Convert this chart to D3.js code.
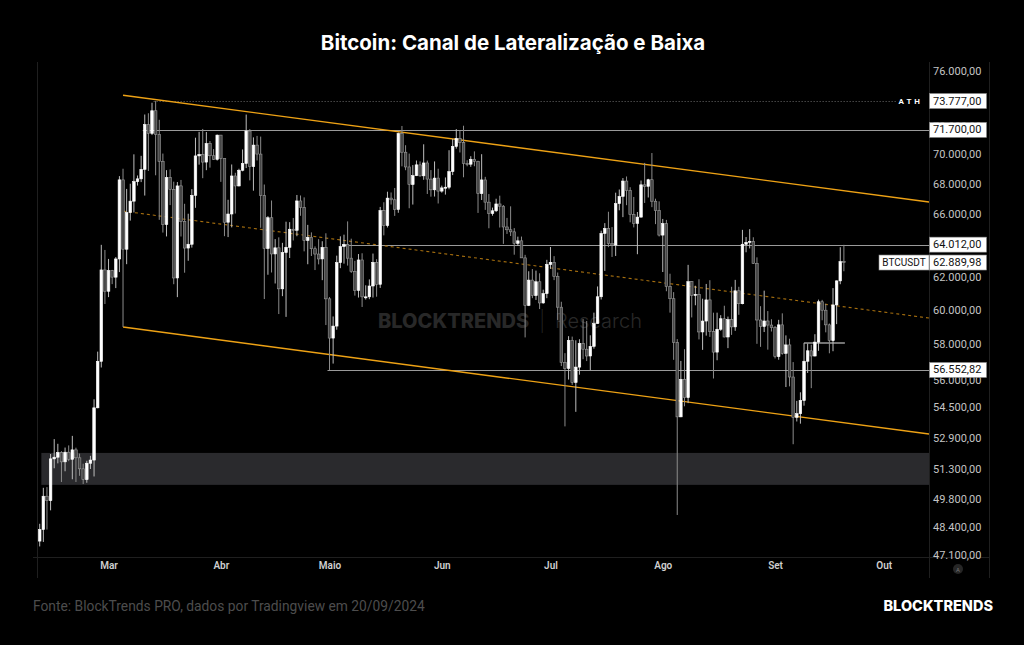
<!DOCTYPE html>
<html>
<head>
<meta charset="utf-8">
<script src="https://cdn.jsdelivr.net/npm/d3@7"></script>
<style>
  html, body { margin: 0; padding: 0; background: #000; }
  svg { display: block; }
</style>
</head>
<body>
<script>
"use strict";

// daily BTCUSDT candles, 11/02/2024 .. 20/09/2024 (one value per day)
const firstDay = "2024-02-11";
const lastDay = "2024-09-20";

const opens = [
  47751,48299,49917,49699,51795,51880,52124,51642,52137,51774,52258,51849,51288,50744,51572,51733,54476,57037,62432,
  61130,62387,61987,63113,68245,63724,66075,66823,68124,68313,68955,72078,71452,73072,71388,69499,65300,68393,67609,61937,67840,65501,63796,64037,67211,69880,69988,69455,70744,69892,69645,
  71333,69702,65446,65980,68508,67837,68896,69360,71620,69146,70631,70007,67195,63765,65738,63426,63811,61276,63512,63843,64994,64927,66837,66408,64276,64481,63755,63419,63113,63841,
  60672,58364,59060,62882,63892,64031,63161,62334,61187,63049,60792,60793,61448,62901,61552,66206,65235,67024,66915,66274,71446,70136,69122,67929,68527,69265,68518,69395,68296,67578,68364,
  67491,67706,67751,68805,70537,71108,70800,69355,69310,69648,69508,67322,68241,66757,66012,66191,66639,66491,65140,64960,64828,64096,64253,63180,60277,61806,60864,61706,60427,60986,
  62772,62900,62029,60173,56977,56639,58231,55857,56714,58051,57725,57339,57889,59204,60797,64724,65043,64087,63987,66660,67139,68165,67532,65936,65372,65777,67912,67813,68255,66819,66201,
  64619,65357,61415,60680,58116,53991,56034,55027,61710,60880,60945,58719,59354,60609,58737,57560,58874,59491,58427,59438,59013,61156,60381,64037,64157,64220,62834,59415,59034,59359,59119,
  58969,57301,59132,57487,57971,56160,53962,54160,54869,57042,57635,57339,58133,60498,59993,59132,58213,60309,61759,62947
];
const highs = [
  48575,50334,50368,52043,52816,52572,52191,52377,52488,52985,52371,52065,51548,51698,51950,54938,57588,64000,63676,
  63114,62433,63230,68499,69000,67637,67985,69990,68541,69887,72800,72890,73650,73777,72419,70043,68904,68956,68124,68100,68240,66650,65999,67622,71150,71561,71769,71552,70913,70355,71366,
  71342,69708,66914,69291,68725,69000,70327,72797,71758,71172,71277,71227,67932,65840,66867,64365,64475,64125,65481,65450,65723,67233,67199,67075,65275,64792,63899,64360,64227,64735,
  60780,59625,63320,64540,64646,65500,64390,62995,63420,63469,61490,61850,63450,63099,66444,66752,67451,67400,67700,71515,71979,70623,70041,69250,69563,69500,70687,69560,68908,69500,69000,
  67857,68409,70274,71063,71758,71625,71997,69582,69860,70195,69550,69999,68449,67295,66400,66983,67188,66566,65727,66482,65066,64520,64525,63369,62350,62487,62389,62225,61224,63058,
  63861,63288,62273,60498,57500,58475,58449,58236,58296,59470,59359,58526,59850,61420,64900,65388,66128,65133,67386,67598,68366,68474,67750,67102,66112,68200,69399,68318,70079,66987,66810,
  65659,65596,62198,61077,58305,57059,57728,62745,61750,61464,61858,60680,61572,61800,59848,59850,59700,60260,59617,61400,61820,61400,64955,64494,65000,64481,63212,60234,61166,59944,59462,
  59063,59426,59809,58520,58327,56995,54850,55318,58088,58044,57981,58588,60625,60610,60380,59210,61320,61786,63850,64000
];
const lows = [
  47500,47710,48300,49225,51315,51566,50625,51163,51677,50760,50625,50934,50521,50586,51280,50901,54450,56691,60364,
  60776,61561,61321,62300,59005,62787,65551,66082,67861,68094,67195,68845,71335,68555,65600,64780,64533,66565,61555,60775,64529,62260,63000,63825,66385,69280,68359,68903,69076,69602,69562,
  68110,64550,64493,65113,66011,67800,68824,69043,68210,67518,69567,65086,60660,62134,62274,61600,59768,60833,59600,63172,64277,64548,65864,63589,62784,63298,62424,62775,61803,59120,
  56552,56911,58849,62541,62822,62700,62250,60866,60750,60187,60630,60650,60750,60800,61330,64602,65106,66600,65857,66061,69162,68900,66356,66600,68500,68456,68250,67300,67120,67129,66670,
  67387,67257,67613,68567,70383,70119,68420,69168,69130,69172,66051,66902,66251,65056,65870,66107,65104,64060,64693,64560,63379,63943,63178,58402,60239,60712,60606,60063,60383,60712,
  62497,61806,59419,56771,53485,56018,55724,54260,56289,57157,57052,56542,57756,59204,60632,62373,63854,63238,63300,66222,65777,66559,65441,65111,63408,65754,66705,67066,66428,65323,64532,
  62302,61130,59850,57122,49000,53973,54558,54730,59568,60287,58286,57688,58506,58433,56078,57098,58785,58408,57787,58548,58783,59722,60345,63531,63773,62800,58034,57860,58713,57700,58744,
  57201,57128,57415,55606,55643,52550,53745,53629,54591,56386,55545,57311,57632,59400,58696,57493,57610,59174,61555,62350
];
const closes = [
  48299,49917,49699,51795,51880,52124,51642,52137,51774,52258,51849,51288,50744,51572,51733,54476,57037,62432,61130,
  62387,61987,63113,68245,63724,66075,66823,68124,68313,68955,72078,71452,73072,71388,69499,65300,68393,67609,61937,67840,65501,63796,64037,67211,69880,69988,69455,70744,69892,69645,71333,
  69702,65446,65980,68508,67837,68896,69360,71620,69146,70631,70007,67195,63765,65738,63426,63811,61276,63512,63843,64994,64927,66837,66408,64276,64481,63755,63419,63113,63841,60672,
  58364,59060,62882,63892,64031,63161,62334,61187,63049,60792,60793,61448,62901,61552,66206,65235,67024,66915,66274,71446,70136,69122,67929,68527,69265,68518,69395,68296,67578,68364,67491,
  67706,67751,68805,70537,71108,70800,69355,69310,69648,69508,67322,68241,66757,66012,66191,66639,66491,65140,64960,64828,64096,64253,63180,60277,61806,60864,61706,60427,60986,62772,
  62900,62029,60173,56977,56639,58231,55857,56714,58051,57725,57339,57889,59204,60797,64724,65043,64087,63987,66660,67139,68165,67532,65936,65372,65777,67912,67813,68255,66819,66201,64619,
  65357,61415,60680,58116,53991,56034,55027,61710,60880,60945,58719,59354,60609,58737,57560,58874,59491,58427,59438,59013,61156,60381,64037,64157,64220,62834,59415,59034,59359,59119,58969,
  57301,59132,57487,57971,56160,53962,54160,54869,57042,57635,57339,58133,60498,59993,59132,58213,60309,61759,62947,62890
];

// axes
const viewDays = ["2024-02-10T06:00Z", "2024-10-13T12:00Z"];
const viewPrices = [47006, 76679];
const monthDays = ["2024-03-01","2024-04-01","2024-05-01","2024-06-01","2024-07-01","2024-08-01","2024-09-01","2024-10-01"];
const monthNames = ["Mar","Abr","Maio","Jun","Jul","Ago","Set","Out"];
const priceTicks = [76000,72000,70000,68000,66000,64000,62000,60000,58000,56000,54500,52900,51300,49800,48400,47100];

// drawn levels
const levelPrices = [73777, 71700, 64012, 56552.82];
const levelStarts = ["2024-03-14", "2024-03-11", "2024-05-05", "2024-05-01"];
const lastPrice = 62889.98;
const boxLevel = 58080;
const boxDays = ["2024-09-09", "2024-09-20"];
const zonePrices = [50480, 52100];
const zoneStart = "2024-02-12";

// channel: price at its start day and at the right edge of the view
const channelStart = "2024-03-05";
const upperLine = [74200, 66770];
const middleLine = [66170, 59530];
const lowerLine = [59005, 53080];

const W = 1024, H = 645;
const plot = {left: 37, right: 929, top: 62, bottom: 557};
const fontUI = "Roboto, 'Liberation Sans', Arial, sans-serif";

const svg = d3.select("body").append("svg")
  .attr("width", W)
  .attr("height", H)
  .style("background", "#000");

const parse = s => new Date(s.length > 10 ? s : s + "T00:00Z");
const days = d3.utcDay.range(parse(firstDay), d3.utcDay.offset(parse(lastDay), 1));
const candles = days.map((d, i) => ({date: d, o: opens[i], h: highs[i], l: lows[i], c: closes[i]}));

const x = d3.scaleUtc()
  .domain(viewDays.map(parse))
  .range([plot.left, plot.right]);

const y = d3.scaleLog()
  .domain(viewPrices)
  .range([plot.bottom, plot.top]);

const br = d3.formatLocale({decimal: ",", thousands: ".", grouping: [3], currency: ["", ""]});
const fmt = br.format(",.2f");

// title
svg.append("text")
  .attr("x", W / 2 + 1)
  .attr("y", 44)
  .attr("text-anchor", "middle")
  .attr("dominant-baseline", "middle")
  .style("font-family", "Inter, Roboto, sans-serif")
  .style("font-weight", 700)
  .style("font-size", "20.5px")
  .attr("fill", "#fff")
  .text("Bitcoin: Canal de Lateralização e Baixa");

// frame lines
const frame = svg.append("g").attr("stroke", "#1f1f1f").attr("stroke-width", 1);
frame.append("line").attr("x1", plot.left + 0.5).attr("x2", plot.left + 0.5).attr("y1", plot.top).attr("y2", 578);
frame.append("line").attr("x1", plot.right + 0.5).attr("x2", plot.right + 0.5).attr("y1", plot.top).attr("y2", 578);
frame.append("line").attr("x1", 989.5).attr("x2", 989.5).attr("y1", plot.top).attr("y2", 578);
frame.append("line").attr("x1", 33).attr("x2", 989).attr("y1", plot.bottom + 0.5).attr("y2", plot.bottom + 0.5);

svg.append("clipPath").attr("id", "clip")
  .append("rect")
  .attr("x", plot.left + 1).attr("y", plot.top)
  .attr("width", plot.right - plot.left - 1).attr("height", plot.bottom - plot.top);

const g = svg.append("g").attr("clip-path", "url(#clip)");

// grey zone
g.append("rect")
  .attr("x", x(parse(zoneStart)) - 2)
  .attr("y", y(zonePrices[1]))
  .attr("width", plot.right - x(parse(zoneStart)) + 2)
  .attr("height", y(zonePrices[0]) - y(zonePrices[1]))
  .attr("fill", "#2a2a2d");

// watermark
const wm = g.append("text")
  .attr("x", 510)
  .attr("y", 323)
  .attr("text-anchor", "middle")
  .attr("dominant-baseline", "middle")
  .style("font-family", "Inter, Roboto, sans-serif")
  .style("font-size", "20px")
  .attr("fill", "#282828");
wm.append("tspan").style("font-weight", 800).text("BLOCKTRENDS");
wm.append("tspan").style("font-weight", 200).attr("dx", 10).text("|");
wm.append("tspan").style("font-weight", 300).attr("dx", 10).text("Research");

// level lines
levelPrices.forEach((p, i) => {
  const line = g.append("line")
    .attr("x1", x(parse(levelStarts[i])) - 2)
    .attr("x2", i === 0 ? plot.right - 32 : plot.right)
    .attr("y1", Math.round(y(p)) + 0.5)
    .attr("y2", Math.round(y(p)) + 0.5)
    .attr("stroke", i === 0 ? "#6a6a6a" : "#9a9a9a")
    .attr("stroke-width", 1);
  if (i === 0) line.attr("stroke-dasharray", "1,2");
});

g.append("line")
  .attr("x1", x(parse(boxDays[0])))
  .attr("x2", x(parse(boxDays[1])) + 1)
  .attr("y1", y(boxLevel))
  .attr("y2", y(boxLevel))
  .attr("stroke", "#e6e6e6")
  .attr("stroke-width", 1.2);

// channel
const chanX = [parse(channelStart), x.domain()[1]];
const chanLine = d3.line().x(d => x(d[0])).y(d => y(d[1]));
[upperLine, middleLine, lowerLine].forEach((prices, i) => {
  g.append("path")
    .attr("d", chanLine(chanX.map((d, k) => [d, prices[k]])))
    .attr("fill", "none")
    .attr("stroke", i === 1 ? "#a8700f" : "#eea215")
    .attr("stroke-width", i === 1 ? 1.1 : 1.4)
    .attr("stroke-dasharray", i === 1 ? "3,3" : null);
});

// candles
const bw = 2.6;
const cg = g.selectAll(".candle").data(candles).enter().append("g").attr("class", "candle");
cg.append("line")
  .attr("x1", d => x(d.date))
  .attr("x2", d => x(d.date))
  .attr("y1", d => y(d.h))
  .attr("y2", d => y(d.l))
  .attr("stroke", d => d.c >= d.o ? "#bdbdbd" : "#8c8c8c")
  .attr("stroke-width", 1);
cg.append("rect")
  .attr("x", d => x(d.date) - bw / 2)
  .attr("y", d => y(Math.max(d.o, d.c)))
  .attr("width", bw)
  .attr("height", d => Math.max(1, Math.abs(y(d.o) - y(d.c))))
  .attr("fill", d => d.c >= d.o ? "#ffffff" : "#474747")
  .attr("stroke", d => d.c >= d.o ? "#ffffff" : "#9a9a9a")
  .attr("stroke-width", 0.6);

// price axis
const yAxis = svg.append("g")
  .attr("transform", `translate(${plot.right},0)`)
  .call(d3.axisRight(y).tickValues(priceTicks).tickFormat(fmt).tickSize(0).tickPadding(4));
yAxis.select(".domain").remove();
yAxis.selectAll("text")
  .style("font-family", fontUI)
  .style("font-size", "11px")
  .attr("fill", "#c4c4c4");

// time axis
const xAxis = svg.append("g")
  .attr("transform", `translate(0,${plot.bottom})`)
  .call(d3.axisBottom(x).tickValues(monthDays.map(parse)).tickFormat((d, i) => monthNames[i]).tickSize(0).tickPadding(5));
xAxis.select(".domain").remove();
xAxis.selectAll("text")
  .style("font-family", fontUI)
  .style("font-size", "10px")
  .style("font-weight", 600)
  .attr("fill", "#cfcfcf");

// level labels on the price axis
const tags = svg.append("g");
function tag(price, label) {
  const cy = y(price);
  tags.append("rect")
    .attr("x", plot.right + 0.5).attr("y", cy - 7.5)
    .attr("width", 57).attr("height", 15)
    .attr("fill", "#fff").attr("stroke", "#8a8a8a").attr("stroke-width", 0.6);
  tags.append("text")
    .attr("x", plot.right + 4).attr("y", cy)
    .attr("dominant-baseline", "central")
    .style("font-family", fontUI).style("font-size", "11px")
    .attr("fill", "#111")
    .text(label);
}
levelPrices.forEach(p => tag(p, fmt(p)));
tag(lastPrice, fmt(lastPrice));

tags.append("rect")
  .attr("x", plot.right - 50).attr("y", y(lastPrice) - 7.5)
  .attr("width", 50).attr("height", 15)
  .attr("fill", "#fff").attr("stroke", "#8a8a8a").attr("stroke-width", 0.6);
tags.append("text")
  .attr("x", plot.right - 25).attr("y", y(lastPrice))
  .attr("text-anchor", "middle").attr("dominant-baseline", "central")
  .style("font-family", fontUI).style("font-size", "10px")
  .attr("fill", "#111")
  .text("BTCUSDT");

tags.append("text")
  .attr("x", plot.right - 6).attr("y", y(levelPrices[0]))
  .attr("text-anchor", "end").attr("dominant-baseline", "central")
  .style("font-family", fontUI).style("font-size", "8px").style("font-weight", 700)
  .style("letter-spacing", "3px")
  .attr("fill", "#fff")
  .text("ATH");

// auto-scale button
svg.append("circle").attr("cx", 958).attr("cy", 569).attr("r", 5).attr("fill", "#262626");
svg.append("text")
  .attr("x", 958).attr("y", 569.5)
  .attr("text-anchor", "middle").attr("dominant-baseline", "central")
  .style("font-family", fontUI).style("font-size", "6px")
  .attr("fill", "#777").text("A");

// footer
svg.append("text")
  .attr("x", 33).attr("y", 607)
  .attr("dominant-baseline", "middle")
  .style("font-family", fontUI).style("font-size", "13.8px")
  .attr("fill", "#4d4d4d")
  .text("Fonte: BlockTrends PRO, dados por Tradingview em 20/09/2024");

svg.append("text")
  .attr("x", 993).attr("y", 607)
  .attr("text-anchor", "end").attr("dominant-baseline", "middle")
  .style("font-family", "Inter, Roboto, sans-serif").style("font-size", "14.5px").style("font-weight", 800)
  .attr("fill", "#fff")
  .text("BLOCKTRENDS");
</script>
</body>
</html>
